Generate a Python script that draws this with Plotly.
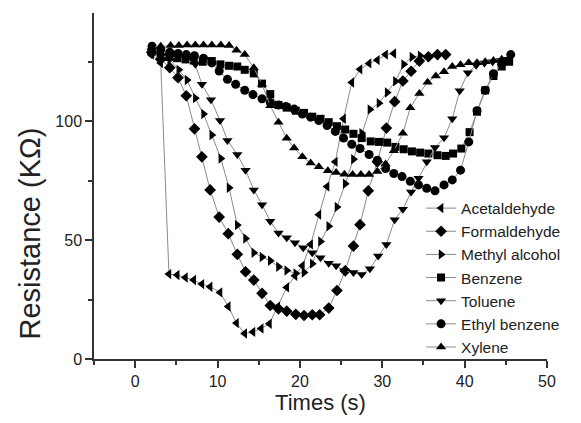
import plotly.graph_objects as go

# ---- data ----
acet_x = [2, 3.1, 4.1, 5.1, 6.1, 7.1, 8.1, 9.1, 10.3, 11.3, 12.3, 13.3, 14.3, 15.3, 16.3, 17.3, 18.4, 19.4,
          20.3, 21.3, 22.3, 23.3, 24.3, 25.3, 26.3, 27.3, 28.4, 29.4, 30.4, 31.4]
acet_y = [128, 124.5, 35.7, 35.3, 34.3, 33.2, 31.5, 30.4, 28.0, 22.1, 15.1, 10.7, 11.4, 12.8, 14.8, 22, 30.1, 35.0,
          39.2, 48.2, 60.7, 72.5, 82.9, 101.0, 116.3, 121.8, 124.3, 125.7, 128.0, 128.5]

form_x = [2, 3.1, 4.2, 5.2, 6.2, 7.2, 8.1, 9.1, 10.2, 11.3, 12.4, 13.4, 14.4, 15.4, 16.4, 17.4, 18.4, 19.5,
          20.5, 21.5, 22.4, 23.5, 24.5, 25.5, 26.5, 27.3, 28.3, 29.4, 30.5, 31.5, 32.5, 33.5, 34.5, 35.6, 36.7, 37.7]
form_y = [129, 126, 122.5, 118.3, 110.7, 96.8, 85.0, 71.1, 59.7, 52.7, 44.0, 36.7, 33.2, 27.6, 22.5, 21.1, 20.1, 18.8,
          18.3, 18.6, 18.6, 21.4, 28.8, 37.1, 47.5, 56.5, 70.7, 82.9, 97.1, 108.2, 116.9, 121.0, 125.3, 127.1, 128.0, 128.0]

meth_x = [2, 3.1, 4.2, 5.3, 6.3, 7.3, 8.3, 9.3, 10.4, 11.4, 12.4, 13.4, 14.4, 15.4, 16.4, 17.4, 18.4, 19.5,
          20.5, 21.5, 22.5, 23.5, 24.5, 25.5, 26.5, 27.5, 28.5, 29.6, 30.6, 31.6, 32.6, 33.6, 34.6]
meth_y = [129, 128, 126, 121.6, 117.3, 109.7, 103.0, 94.2, 84.3, 72.0, 56.3, 50.7, 44.7, 42.9, 41.3, 38.8, 37.2, 36.0,
          36.4, 40.1, 49.4, 55.8, 63.9, 73.7, 84, 95, 104.9, 107.6, 112.1, 116.8, 123.9, 127.0, 127.5]

benz_x = [2, 3.1, 4.1, 5.1, 6.1, 7.1, 8.2, 9.3, 10.35, 11.4, 12.4, 13.3, 14.4, 15.4, 16.4, 17.4, 18.4, 19.5,
          20.5, 21.5, 22.5, 23.5, 24.5, 25.5, 26.5, 27.5, 28.6, 29.6, 30.6, 31.6, 32.6, 33.6, 34.6, 35.6, 36.7,
          37.7, 38.6, 39.6, 40.6, 41.5, 42.5, 43.5, 44.5, 45.4]
benz_y = [129, 127, 127, 126.5, 126, 125.5, 125, 125.3, 123.9, 123.3, 123.0, 121.6, 120.1, 115.8, 111.4, 106.8, 105.7,
          104.4, 103.5, 101.9, 101.0, 99.6, 97.9, 96.5, 94.7, 92.9, 91.5, 91.3, 91.0, 89.2, 88.2, 87.3, 86.8, 86.4,
          85.7, 85.4, 86.4, 88.5, 95.4, 104.0, 113, 119, 123, 125]

tolu_x = [2, 3.1, 4.2, 5.2, 6.2, 7.3, 8.1, 9.2, 10.3, 11.2, 12.4, 13.4, 14.4, 15.4, 16.4, 17.4, 18.4, 19.4,
          20.4, 21.5, 22.5, 23.5, 24.4, 25.4, 26.5, 27.5, 28.5, 29.5, 30.5, 31.5, 32.5, 33.5, 34.4, 35.4, 36.4,
          37.5, 38.5, 39.4, 40.4, 41.4, 42.4, 43.4, 44.4, 45.3]
tolu_y = [128, 127.5, 127, 127, 126, 123.9, 115.5, 109.0, 100.3, 91.9, 86.0, 79.4, 71.1, 64.9, 57.9, 53.0, 51.0,
          48.9, 46.8, 44.7, 42.6, 40.3, 39.2, 37.1, 36.4, 35.5, 38.0, 43.3, 48.2, 58.6, 63.0, 70.2, 76.0, 82.9,
          88.9, 93.0, 101.0, 112.8, 120.4, 123.5, 124.5, 125, 125.5, 126]

ethb_x = [2.05, 3.1, 4.2, 5.2, 6.2, 7.2, 8.3, 9.3, 10.2, 11.2, 12.2, 13.3, 14.3, 15.4, 16.4, 17.4, 18.3, 19.3,
          20.3, 21.3, 22.3, 23.3, 24.3, 25.3, 26.3, 27.3, 28.4, 29.4, 30.4, 31.4, 32.4, 33.4, 34.4, 35.4, 36.4,
          37.5, 38.5, 39.5, 40.5, 41.5, 42.5, 43.5, 44.5, 45.6]
ethb_y = [131.5, 130, 129, 128.5, 128, 127.5, 126.5, 124.5, 121.1, 117.6, 115.5, 113.0, 111.2, 109.4, 107.9, 106.8,
          106.2, 105.1, 103.0, 101.7, 100.3, 98.2, 95.7, 92.9, 90.3, 88.5, 86.0, 83.6, 80.1, 78.0, 76.7, 74.7,
          73.2, 71.8, 70.7, 73.2, 75.3, 79.4, 91.3, 104.4, 113, 120, 124, 128]

xyl_x = [2, 3.1, 4.3, 5.3, 6.3, 7.3, 8.3, 9.3, 10.4, 11.4, 12.3, 13.3, 14.4, 15.4, 16.4, 17.4, 18.4, 19.3,
         20.3, 21.3, 22.3, 23.4, 24.4, 25.4, 26.4, 27.4, 28.4, 29.4, 30.4, 31.4, 32.5, 33.4, 34.5, 35.5, 36.5,
         37.5, 38.5, 39.5, 40.5, 41.5, 42.5, 43.5, 44.5, 45.3]
xyl_y = [131, 131.5, 131.8, 131.8, 132, 132, 132, 132, 132, 131.8, 129.8, 128, 122.5, 115.5, 106.5, 99.6, 92.8,
         88.7, 85.0, 82.4, 80.8, 79.2, 78.4, 77.7, 77.6, 77.6, 77.6, 78.9, 82, 87.6, 94.9, 105.7, 111.7, 116.4,
         119.0, 120.8, 123.0, 123.7, 124.6, 124.6, 125, 125.5, 126, 126]

names = ["Acetaldehyde", "Formaldehyde", "Methyl alcohol", "Benzene", "Toluene", "Ethyl benzene", "Xylene"]
xs = [acet_x, form_x, meth_x, benz_x, tolu_x, ethb_x, xyl_x]
ys = [acet_y, form_y, meth_y, benz_y, tolu_y, ethb_y, xyl_y]
symbols = ["triangle-left", "diamond", "triangle-right", "square", "triangle-down", "circle", "triangle-up"]
sizes = [9, 9, 9, 8, 9, 9, 9]

FONT = "Liberation Sans, Arial, sans-serif"
fig = go.Figure()
for n, x, y, s, sz in zip(names, xs, ys, symbols, sizes):
    fig.add_trace(go.Scatter(
        x=x, y=y, name=n, mode="lines+markers",
        line=dict(color="#8a8a8a", width=1),
        marker=dict(symbol=s, size=sz, color="black", line=dict(width=0)),
    ))

fig.update_layout(
    width=581, height=423,
    margin=dict(l=94, r=34, t=13, b=61),
    paper_bgcolor="white", plot_bgcolor="white",
    font=dict(family=FONT, color="#222", size=16),
    showlegend=True,
    legend=dict(x=0.722, y=0.484, xanchor="left", yanchor="top",
                bgcolor="rgba(0,0,0,0)", font=dict(size=15.5, family=FONT, color="#222"),
                itemwidth=30, tracegroupgap=0),
    annotations=[dict(
        text="Resistance (KΩ)", textangle=-90, showarrow=False,
        xref="paper", yref="paper", x=-0.141, y=0.363,
        xanchor="center", yanchor="middle",
        font=dict(size=29, family=FONT, color="#222"),
    )],
)
fig.update_xaxes(
    range=[-5, 50], tick0=0, dtick=10, showgrid=False, zeroline=False,
    showline=True, linecolor="#333", linewidth=1.5,
    ticks="outside", ticklen=7, tickwidth=1.5, tickcolor="#333",
    minor=dict(dtick=5, tick0=0, ticks="outside", ticklen=4, tickwidth=1.5, tickcolor="#333"),
    tickfont=dict(size=16),
    title=dict(text="Times (s)", font=dict(size=22), standoff=6),
)
fig.update_yaxes(
    range=[0, 145.5], tick0=0, dtick=50, showgrid=False, zeroline=False,
    showline=True, linecolor="#333", linewidth=1.5,
    ticks="outside", ticklen=7, tickwidth=1.5, tickcolor="#333",
    minor=dict(dtick=25, tick0=0, ticks="outside", ticklen=4, tickwidth=1.5, tickcolor="#333"),
    tickfont=dict(size=16),
)
fig.write_html("out.html")
